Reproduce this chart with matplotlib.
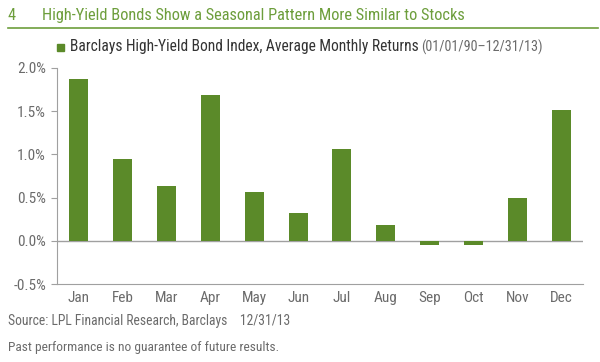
import matplotlib
matplotlib.use("Agg")
import matplotlib.pyplot as plt

plt.rcParams["font.family"] = ["Roboto Condensed", "DejaVu Sans"]

months = ["Jan", "Feb", "Mar", "Apr", "May", "Jun",
          "Jul", "Aug", "Sep", "Oct", "Nov", "Dec"]
returns = [1.87, 0.95, 0.63, 1.69, 0.56, 0.32,
           1.06, 0.18, -0.045, -0.045, 0.49, 1.51]
yticks = [-0.5, 0.0, 0.5, 1.0, 1.5, 2.0]

GREEN = "#5b8a29"
TITLE_GREEN = "#6d9e3c"
GRAY = "#6b6b6b"
LINE = "#a0a0a0"

W, H = 600, 362
fig = plt.figure(figsize=(W / 100, H / 100), dpi=100)
ax = fig.add_axes([57 / W, 1 - 284 / H, (583 - 57) / W, (284 - 67.8) / H])

ax.bar(range(len(months)), returns, width=0.43, color=GREEN, zorder=3)
ax.axhline(0, color=LINE, lw=1, zorder=2)
ax.set_xlim(-0.5, len(months) - 0.5)
ax.set_ylim(-0.5, 2.0)
ax.set_yticks(yticks)
ax.set_yticklabels([f"{v:.1f}%" for v in yticks])
ax.set_xticks(range(len(months)))
ax.set_xticklabels(months)

for side in ("top", "right"):
    ax.spines[side].set_visible(False)
ax.spines["left"].set_color(LINE)
ax.spines["bottom"].set_color(LINE)
ax.tick_params(axis="y", colors=LINE, labelcolor=GRAY, labelsize=11, length=4, pad=4)
ax.tick_params(axis="x", length=0, labelcolor=GRAY, labelsize=11, pad=5)

# header
fig.text(8 / W, 1 - 15.5 / H, "4", color=TITLE_GREEN, fontsize=11.8, va="center")
fig.text(42 / W, 1 - 15.5 / H, "High-Yield Bonds Show a Seasonal Pattern More Similar to Stocks",
         color=TITLE_GREEN, fontsize=11.8, va="center")
fig.add_artist(plt.Line2D([8 / W, 598 / W], [1 - 28 / H, 1 - 28 / H], color=TITLE_GREEN, lw=1.2))

# legend
fig.patches.append(plt.Rectangle((57 / W, 1 - 50.5 / H), 6.5 / W, 6.5 / H, color=GREEN,
                                 transform=fig.transFigure, figure=fig))
lab = fig.text(70 / W, 1 - 47 / H, "Barclays High-Yield Bond Index, Average Monthly Returns",
               color="#333333", fontsize=11.2, va="center")
ax.annotate("(01/01/90\u201312/31/13)", xy=(1, 0.5), xycoords=lab, xytext=(2, 0),
            textcoords="offset points", color=GRAY, fontsize=10.2, va="center",
            annotation_clip=False)

# footer
fig.text(8 / W, 1 - 320.5 / H, "Source: LPL Financial Research, Barclays    12/31/13",
         color=GRAY, fontsize=9.8, va="center")
fig.text(8 / W, 1 - 347 / H, "Past performance is no guarantee of future results.",
         color=GRAY, fontsize=9.6, va="center")

fig.savefig("out.png", dpi=100, facecolor="white")
